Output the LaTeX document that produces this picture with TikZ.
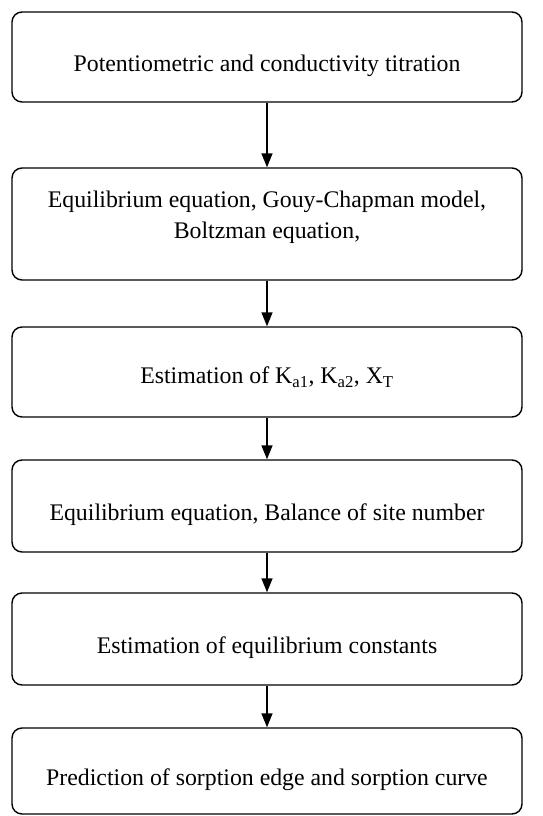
\documentclass[tikz,border=0pt]{standalone}
\usepackage{fontspec}
\setmainfont{Liberation Serif}
\usetikzlibrary{positioning,arrows.meta}

\tikzset{
  stage/.style={draw, line width=1.4pt, rounded corners=10pt, minimum width=510pt, minimum height=90pt, align=center, inner sep=0pt},
  sunk/.style={text height=34pt, text depth=5pt},
  flow/.style={-{Triangle[length=14pt,width=11pt]}, line width=1.4pt}
}

\begin{document}
\begin{tikzpicture}[x=1pt, y=-1pt, font=\fontsize{23.8}{30}\selectfont]
        \useasboundingbox (0,0) rectangle (543,816);
        \node[stage, sunk] (titr) at (267,57){Potentiometric and conductivity titration};
        \node[stage, minimum height=112pt] (gouy) at (267,224){Equilibrium equation, Gouy-Chapman model,\\[1pt] Boltzman equation,\\[-12pt]};
        \node[stage, text height=28pt, text depth=5pt] (kest) at (267,372){Estimation of K\textsubscript{a1}, K\textsubscript{a2}, X\textsubscript{T}};
        \node[stage, sunk, minimum height=92pt] (site) at (267,506){Equilibrium equation, Balance of site number};
        \node[stage, sunk, minimum height=92pt] (cons) at (267,639){Estimation of equilibrium constants};
        \node[stage, sunk, minimum height=86pt] (pred) at (267,771){Prediction of sorption edge and sorption curve};
        \draw[flow] (titr) -- (gouy);
        \draw[flow] (gouy) -- (kest);
        \draw[flow] (kest) -- (site);
        \draw[flow] (site) -- (cons);
        \draw[flow] (cons) -- (pred);
      \end{tikzpicture}
\end{document}
